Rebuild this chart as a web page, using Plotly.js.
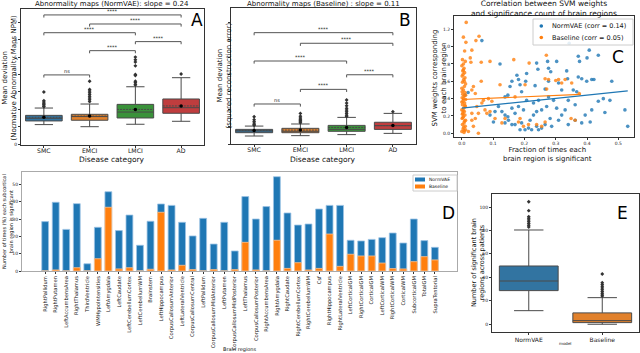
<!DOCTYPE html>
<html>
<head>
<meta charset="utf-8">
<script src="https://cdn.plot.ly/plotly-3.0.1.min.js"></script>
<style>
  html, body { margin: 0; padding: 0; background: #fff; }
  #chart { width: 640px; height: 353px; }
</style>
</head>
<body>
<div id="chart"></div>
<script>
// ---- panel A / B : abnormality maps per disease category ----
const categories = ["SMC", "EMCI", "LMCI", "AD"];

const q1A = [1.34, 1.38, 1.51, 1.78];
const medianA = [1.49, 1.59, 1.85, 2.10];
const q3A = [1.66, 1.72, 2.29, 2.60];
const lowA = [1.13, 1.01, 1.15, 1.32];
const highA = [2.08, 2.31, 3.30, 3.82];
const meanA = [1.55, 1.62, 2.00, 2.20];
const outliersA = [
    [3.0, 2.5, 2.42, 2.35, 2.28, 2.2, 2.15],
    [3.62, 3.15, 3.05, 2.95, 2.85, 2.75, 2.65, 2.55, 2.45],
    [5.0, 4.85, 4.72, 4.5, 4.0, 3.95, 3.62, 3.55, 3.45, 3.4],
    [4.03]
];

const q1B = [0.65, 0.65, 0.73, 0.84];
const medianB = [0.75, 0.73, 0.84, 1.05];
const q3B = [0.84, 0.90, 1.07, 1.25];
const lowB = [0.46, 0.48, 0.54, 0.61];
const highB = [1.03, 1.15, 1.53, 1.76];
const meanB = [0.78, 0.80, 0.95, 1.06];
const outliersB = [
    [1.57, 1.4, 1.3, 1.2, 1.12, 1.08],
    [1.76, 1.6, 1.5, 1.42, 1.35, 1.28, 1.22],
    [2.53, 2.35, 2.2, 2.05, 1.95, 1.85, 1.75, 1.65, 1.58],
    [1.86]
];

// significance brackets (category index from / to, height, label)
const bracketFrom = [0, 1, 0, 2, 1, 0];
const bracketTo = [3, 3, 2, 3, 2, 1];
const bracketText = ["****", "****", "****", "****", "****", "ns"];
const bracketHeightA = [7.42, 6.90, 6.40, 5.89, 5.37, 3.98];
const bracketHeightB = [6.40, 5.79, 4.77, 3.98, 3.14, 2.30];

// ---- panel C : SVM weights vs significance ----
const normX = [0.064,0.122,0.176,0.181,0.207,0.204,0.239,0.243,0.274,0.277,
    0.284,0.303,0.343,0.372,0.376,0.400,0.407,0.436,0.372,0.383,
    0.399,0.415,0.422,0.335,0.338,0.309,0.277,0.266,0.234,0.191,
    0.154,0.160,0.147,0.479,0.452,0.436,0.473,0.521,0.530,0.457,
    0.415,0.394,0.383,0.410,0.362,0.340,0.319,0.303,0.309,0.282,
    0.266,0.255,0.239,0.229,0.218,0.213,0.191,0.186,0.170,0.160,
    0.149,0.138,0.128,0.106,0.090,0.101,0.138,0.170,0.181,0.197,
    0.207,0.229,0.245,0.271,0.293,0.340,0.362,0.330,0.356,0.367,
    0.319,0.277,0.239,0.245,0.255,0.287,0.202,0.223,0.147,0.117,
    0.160,0.186,0.138,0.010,0.020];
const normY = [1.07,0.80,0.67,0.62,0.69,0.60,0.81,0.74,0.83,0.75,
    0.71,0.83,1.04,0.89,0.83,0.87,0.96,0.90,0.65,0.63,
    0.60,0.62,0.62,0.72,0.63,0.58,0.60,0.51,0.55,0.48,
    0.54,0.60,0.44,0.60,0.40,0.37,0.38,0.27,0.08,0.24,
    0.27,0.21,0.12,0.13,0.15,0.10,0.21,0.29,0.15,0.17,
    0.10,0.27,0.25,0.21,0.15,0.06,0.12,0.04,0.10,0.10,
    0.15,0.12,0.25,0.25,0.21,0.13,0.21,0.23,0.31,0.27,
    0.38,0.35,0.38,0.31,0.38,0.38,0.33,0.27,0.50,0.48,
    0.50,0.42,0.08,0.04,0.06,0.08,0.04,0.04,0.19,0.31,
    0.29,0.56,0.42,0.44,0.47];
const baseX = [0.014,0.005,0.013,0.055,0.045,0.032,0.027,0.029,0.062,0.090,
    0.166,0.215,0.270,0.266,0.277,0.309,0.319,0.351,0.122,0.170,
    0.202,0.271,0.062,0.069,0.096,0.085,0.080,0.090,0.106,0.128,
    0.138,0.186,0.213,0.197,0.181,0.239,0.255,0.266,0.349,0.362,
    0.037,0.021,0.053,0.032,0.043,0.048,0.064,0.074,0.053,0.032,
    0.032,0.037,0.043,0.375,0.330,0.300,
    0.000,0.004,0.008,0.011,0.002,0.007,0.012,0.001,0.005,0.010,
    0.003,0.008,0.000,0.006,0.011,0.002,0.009,0.004,0.012,0.001,
    0.007,0.003,0.010,0.005,0.000,0.008,0.012,0.002,0.006,0.010,
    0.001,0.004,0.009,0.003,0.007,0.000,0.005,0.011,0.002,0.006,
    0.009,0.004,0.000,0.012,0.007,0.003,0.010,0.001,0.008,0.005,
    0.012,0.002,0.006,0.009];
const baseY = [1.28,1.11,1.05,1.12,1.07,0.96,0.87,0.82,0.82,0.83,
    0.85,0.81,0.90,0.63,0.62,0.62,0.58,0.58,0.56,0.42,
    0.56,0.51,0.60,0.38,0.37,0.40,0.23,0.25,0.17,0.12,
    0.17,0.17,0.10,0.08,0.13,0.10,0.08,0.13,0.17,0.15,
    0.08,0.02,0.00,0.15,0.17,0.31,0.35,0.27,0.23,0.23,
    0.50,0.54,0.46,0.46,0.62,0.61,
    0.02,0.05,0.03,0.08,0.10,0.12,0.15,0.17,0.19,0.21,
    0.23,0.25,0.27,0.29,0.31,0.33,0.35,0.37,0.39,0.41,
    0.43,0.45,0.47,0.50,0.52,0.54,0.57,0.59,0.62,0.64,
    0.66,0.68,0.70,0.72,0.75,0.78,0.80,0.83,0.85,0.07,
    0.14,0.26,0.36,0.44,0.01,0.18,0.32,0.48,0.60,0.73,
    0.04,0.22,0.40,0.95];
const normFitX = [0.0, 0.53];
const normFitY = [0.29, 0.49];
const baseFitX = [0.0, 0.38];
const baseFitY = [0.39, 0.45];
const scatterNames = ["NormVAE (corr = 0.14)", "Baseline (corr = 0.05)"];

// ---- panel D : significance count per brain region ----
const regions = ["RightPallidum", "RightPutamen", "LeftAccumbensArea", "RightThalamus", "ThirdVentricle",
    "WMHypoIntensities", "LeftAmygdala", "LeftCaudate", "LeftCerebellumCortex", "LeftCerebellumWM",
    "Brainstem", "LeftHippocampus", "CorpusCallosumAnterior", "LeftLateralVentricle", "CorpusCallosumCentral",
    "LeftPallidum", "CorpusCallosumMidAnterior", "LeftPutamen", "CorpusCallosumMidPosterior", "LeftThalamus",
    "CorpusCallosumPosterior", "RightAccumbensArea", "RightAmygdala", "RightCaudate", "RightCerebellumCortex",
    "RightCerebellumWM", "Csf", "RightHippocampus", "RightLateralVentricle", "LeftCorticalGM",
    "RightCorticalGM", "CorticalGM", "LeftCorticalWM", "RightCorticalWM", "CorticalWM",
    "SubcorticalGM", "TotalGM", "SupraTentorial"];
const normVaeCount = [28.6, 39.8, 24.1, 39.0, 4.2, 25.3, 45.9, 23.4, 32.4, 14.9,
    28.8, 38.8, 38.0, 28.2, 20.3, 30.5, 15.6, 28.2, 11.6, 43.1,
    30.1, 37.3, 54.6, 33.6, 26.6, 27.2, 35.9, 38.0, 38.0, 17.8,
    17.4, 18.3, 19.3, 22.0, 16.2, 30.1, 17.6, 13.7];
const baselineCount = [0.0, 0.6, 0.0, 1.9, 0.0, 7.1, 36.9, 1.2, 1.9, 0.0,
    1.0, 34.0, 0.6, 3.3, 0.8, 0.0, 0.8, 0.0, 0.8, 16.6,
    0.6, 0.0, 17.8, 1.5, 4.8, 0.6, 1.5, 21.4, 2.7, 9.7,
    8.7, 8.7, 4.6, 1.4, 1.2, 5.4, 8.3, 6.4];
const barNames = ["NormVAE", "Baseline"];

// ---- panel E : number of significant regions per patient ----
const models = ["NormVAE", "Baseline"];
const q1E = [28.7, 1.4];
const medianE = [36.9, 3.1];
const q3E = [49.7, 9.7];
const lowE = [11.6, 0.0];
const highE = [80.4, 22.7];
const outliersE = [
    [104.5, 96.9, 91.8, 90.5, 89, 87.5, 86, 84.5, 83],
    [42.9, 35.5, 34, 32.5, 31, 29.5, 28, 26.5, 25, 24]
];

// ---- styling ----
const W = 640, H = 353;
const FONT = "DejaVu Sans";
const diseaseColors = ["#3274a1", "#e1812c", "#3a923a", "#c03d3e"];
const modelColors = ["#3274a1", "#e1812c"];
const mplColors = ["#1f77b4", "#ff7f0e"];
const edge = "#4a4a4a";

const px = v => v / W;
const py = v => 1 - v / H;

const traces = [];
const annotations = [];
const shapes = [];

function addBoxes(xa, ya, cats, q1, med, q3, lo, hi, mean, outliers, colors) {
    cats.forEach((c, i) => {
        const box = {
            type: "box", xaxis: xa, yaxis: ya, x: [i],
            q1: [q1[i]], median: [med[i]], q3: [q3[i]],
            lowerfence: [lo[i]], upperfence: [hi[i]],
            width: 0.8, whiskerwidth: 0.5, boxpoints: false,
            fillcolor: colors[i], line: {color: edge, width: 1},
            showlegend: false, hoverinfo: "skip"
        };
        if (mean) {
            box.mean = [mean[i]];
            box.boxmean = true;
        }
        traces.push(box);
        traces.push({
            type: "scatter", mode: "markers", xaxis: xa, yaxis: ya,
            x: outliers[i].map(() => i), y: outliers[i],
            marker: {symbol: "diamond", size: 3, color: "#333"},
            showlegend: false, hoverinfo: "skip"
        });
    });
    if (mean) {
        traces.push({
            type: "scatter", mode: "markers", xaxis: xa, yaxis: ya,
            x: cats.map((c, i) => i), y: mean,
            marker: {size: 3.5, color: "#000"},
            showlegend: false, hoverinfo: "skip"
        });
    }
}

function addBrackets(xa, ya, heights, tick) {
    const bx = [], by = [];
    heights.forEach((h, i) => {
        bx.push(bracketFrom[i], bracketFrom[i], bracketTo[i], bracketTo[i], null);
        by.push(h - tick, h, h, h - tick, null);
        annotations.push({
            xref: xa, yref: ya, x: (bracketFrom[i] + bracketTo[i]) / 2, y: h,
            xanchor: "center", yanchor: "bottom", yshift: -1,
            text: bracketText[i], showarrow: false,
            font: {family: FONT, size: 5, color: "#222"}
        });
    });
    traces.push({
        type: "scatter", mode: "lines", xaxis: xa, yaxis: ya, x: bx, y: by,
        line: {color: "#555", width: 1}, showlegend: false, hoverinfo: "skip"
    });
}

addBoxes("x", "y", categories, q1A, medianA, q3A, lowA, highA, meanA, outliersA, diseaseColors);
addBrackets("x", "y", bracketHeightA, 0.15);
addBoxes("x2", "y2", categories, q1B, medianB, q3B, lowB, highB, meanB, outliersB, diseaseColors);
addBrackets("x2", "y2", bracketHeightB, 0.15);

// panel C
[[normX, normY], [baseX, baseY]].forEach((s, k) => {
    traces.push({
        type: "scatter", mode: "markers", xaxis: "x3", yaxis: "y3", x: s[0], y: s[1],
        marker: {size: 3.6, color: mplColors[k], opacity: 0.8},
        showlegend: false, hoverinfo: "skip"
    });
});
[[normFitX, normFitY], [baseFitX, baseFitY]].forEach((s, k) => {
    traces.push({
        type: "scatter", mode: "lines", xaxis: "x3", yaxis: "y3", x: s[0], y: s[1],
        line: {color: mplColors[k], width: 1.2}, showlegend: false, hoverinfo: "skip"
    });
});

// panel D
const regionIdx = regions.map((r, i) => i);
[normVaeCount, baselineCount].forEach((vals, k) => {
    traces.push({
        type: "bar", xaxis: "x4", yaxis: "y4", x: regionIdx, y: vals, width: 0.65,
        marker: {color: mplColors[k], line: {color: k ? "#ffc38f" : "#9cc3e4", width: 0.8}},
        showlegend: false, hoverinfo: "skip"
    });
});

// panel E
addBoxes("x5", "y5", models, q1E, medianE, q3E, lowE, highE, null, outliersE, modelColors);

function frame(extra) {
    return Object.assign({
        showline: true, mirror: true, linecolor: "#333", linewidth: 1,
        showgrid: false, zeroline: false, ticks: "outside", ticklen: 2,
        tickcolor: "#333", tickfont: {family: FONT, size: 4.5, color: "#222"}
    }, extra);
}

function addText(x, y, text, size, extra) {
    annotations.push(Object.assign({
        xref: "paper", yref: "paper", x: px(x), y: py(y), text: text,
        xanchor: "center", yanchor: "middle",
        showarrow: false, font: {family: FONT, size: size, color: "#111"}
    }, extra || {}));
}

function paperRect(x0, y0, x1, y1, fill, line, type) {
    shapes.push({
        type: type || "rect", xref: "paper", yref: "paper",
        x0: px(x0), x1: px(x1), y0: py(y1), y1: py(y0),
        fillcolor: fill, line: line || {width: 0}
    });
}

// legend of panel C (drawn by hand so the rows stay compact)
paperRect(533, 19, 633, 45, "rgba(255,255,255,0.85)", {color: "#ccc", width: 1});
scatterNames.forEach((name, k) => {
    const yy = 26 + k * 11.5;
    paperRect(539.5, yy - 1.8, 543.1, yy + 1.8, mplColors[k], {width: 0}, "circle");
    addText(550, yy, name, 6.5, {xanchor: "left"});
});

// legend of panel D
paperRect(413, 175, 457, 191, "rgba(255,255,255,0.85)", {color: "#ccc", width: 1});
barNames.forEach((name, k) => {
    const yy = 179.5 + k * 7;
    paperRect(415, yy - 2, 425, yy + 2, mplColors[k]);
    addText(427, yy, name, 4.5, {xanchor: "left"});
});

// titles
addText(112, 4, "Abnormality maps (NormVAE): slope = 0.24", 7);
addText(323, 4, "Abnormality maps (Baseline) : slope = 0.11", 7);
addText(544, 8.5, "Correlation between SVM weights<br>and significance count of brain regions", 7.5);
// axis labels
addText(112, 159.5, "Disease category", 7.5);
addText(323, 159.5, "Disease category", 7.5);
addText(8.5, 78, "Mean deviation<br>(Normative Abnormality Maps NPM)", 7, {textangle: -90});
addText(223.5, 76, "Mean deviation<br>(squared reconstruction error)", 7, {textangle: -90});
addText(438.5, 78, "SVM weights corresponding<br>to each brain region", 7, {textangle: -90});
addText(547, 154.5, "Fraction of times each<br>brain region is significant", 7);
addText(8, 222, "Number of times (%) each subcortical<br>brain region is significant", 5, {textangle: -90});
addText(240, 349, "Brain regions", 5);
addText(478, 263, "Number of significant brain<br>regions across patients", 6.5, {textangle: -90});
addText(565, 343, "model", 4);
// panel letters
const letterFont = {family: FONT, size: 17, color: "#000"};
addText(197, 20, "A", 17, {font: letterFont});
addText(405, 20, "B", 17, {font: letterFont});
addText(618, 57, "C", 17, {font: letterFont});
addText(448, 213, "D", 17, {font: letterFont});
addText(622, 213, "E", 17, {font: letterFont});

const catTicks = {tickvals: categories.map((c, i) => i), ticktext: categories,
    ticklabelstandoff: -2, tickfont: {family: FONT, size: 6.2, color: "#222"}};

const layout = {
    width: W, height: H,
    margin: {l: 0, r: 0, t: 0, b: 0},
    paper_bgcolor: "#fff", plot_bgcolor: "#fff",
    font: {family: FONT},
    barmode: "overlay",
    showlegend: false,
    xaxis: frame(Object.assign({domain: [px(21), px(204)], range: [-0.5, 3.5], anchor: "y"}, catTicks)),
    yaxis: frame({domain: [py(145), py(9)], range: [-0.04, 7.76], anchor: "x",
        tickvals: [0, 1, 2, 3, 4, 5, 6, 7]}),
    xaxis2: frame(Object.assign({domain: [px(231), px(416)], range: [-0.5, 3.5], anchor: "y2"}, catTicks)),
    yaxis2: frame({domain: [py(144), py(8.3)], range: [0, 7.8], anchor: "x2",
        tickvals: [0, 1, 2, 3, 4, 5, 6, 7], showticklabels: false}),
    xaxis3: frame({domain: [px(454), px(634)], range: [-0.025, 0.55], anchor: "y3",
        tickvals: [0, 0.1, 0.2, 0.3, 0.4, 0.5], tickformat: ".1f"}),
    yaxis3: frame({domain: [py(137), py(16)], range: [-0.043, 1.354], anchor: "x3",
        tickvals: [0, 0.2, 0.4, 0.6, 0.8, 1.0, 1.2], tickformat: ".1f"}),
    xaxis4: frame({domain: [px(22), px(457)], range: [-2.2, 39.1], anchor: "y4",
        tickvals: regionIdx, ticktext: regions, tickangle: -90, linecolor: "#aaa",
        tickfont: {family: FONT, size: 5.2, color: "#222"}}),
    yaxis4: frame({domain: [py(271), py(171.7)], range: [0, 57.5], anchor: "x4",
        tickvals: [0, 10, 20, 30, 40, 50], linecolor: "#aaa"}),
    xaxis5: frame({domain: [px(492), px(639)], range: [-0.5, 1.5], anchor: "y5",
        tickvals: [0, 1], ticktext: models, tickfont: {family: FONT, size: 6, color: "#222"}}),
    yaxis5: frame({domain: [py(332), py(194)], range: [-6.6, 111.1], anchor: "x5",
        tickvals: [0, 20, 40, 60, 80, 100]}),
    annotations: annotations,
    shapes: shapes
};

Plotly.newPlot("chart", traces, layout, {staticPlot: true, displayModeBar: false});
</script>
</body>
</html>
